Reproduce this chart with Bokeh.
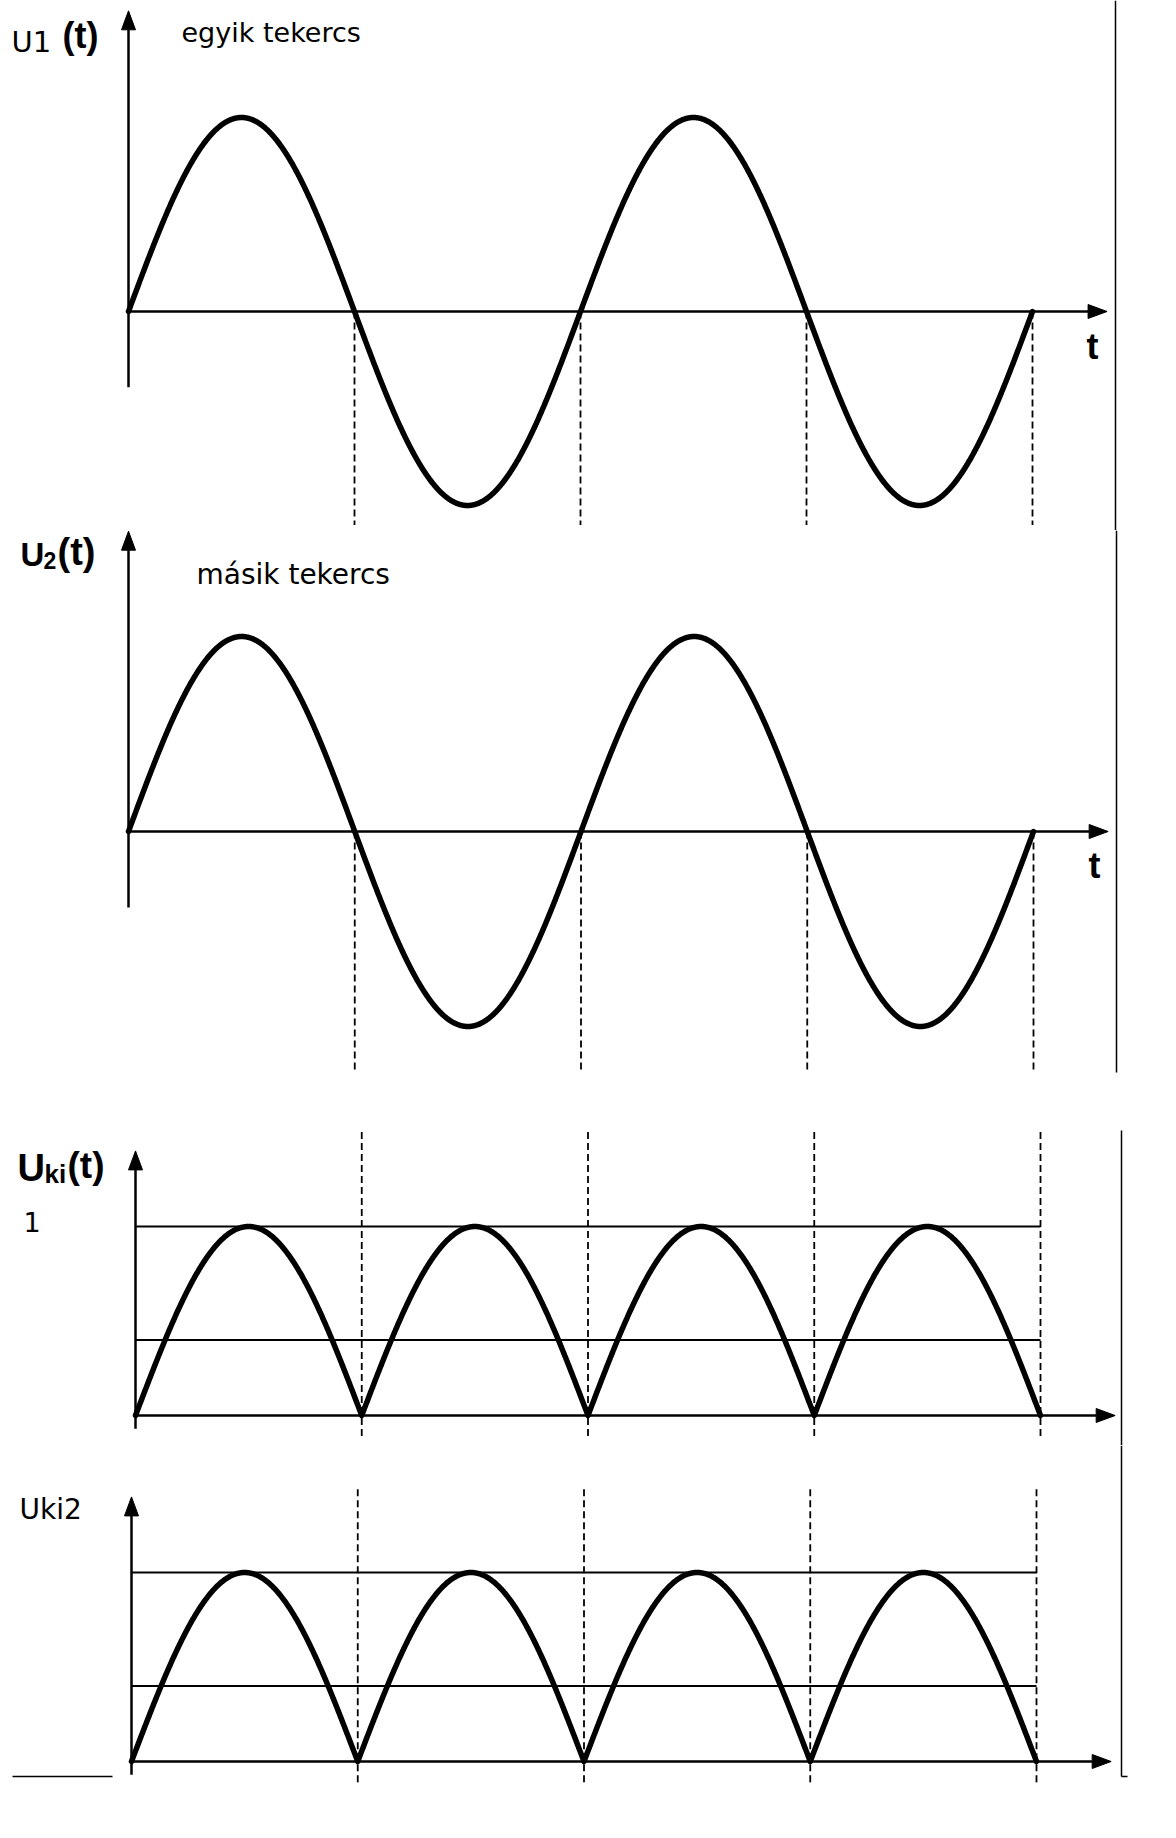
import numpy as np
from bokeh.plotting import figure
from bokeh.layouts import column
from bokeh.models import Range1d
from bokeh.core.properties import value
from bokeh.embed import file_html
from bokeh.resources import INLINE

# ---------------- data (t in half-periods, U relative to peak) ----------------
zero_crossings = [0, 1, 2, 3, 4]          # where the curves return to zero
peak_value = 1.0                           # amplitude of U1, U2 and Uki
mean_level = 0.4                           # lower horizontal line in Uki panels
t_axis_end = 4.33                          # where the t-axis arrow ends
u1_axis_span = (-0.39, 1.55)
u2_axis_span = (-0.39, 1.54)
uki_axis_span = (-0.07, 1.40)
uki2_axis_span = (-0.07, 1.40)
u1_guides_span = (0.0, -1.10)
u2_guides_span = (0.0, -1.23)
uki_guides_span = (1.50, -0.13)
uki2_guides_span = (1.44, -0.13)

t_curve = np.linspace(zero_crossings[0], zero_crossings[-1], 1601)
u_sine = peak_value * np.sin(np.pi * t_curve)
u_rect = np.abs(u_sine)

# ---------------- layout helpers ----------------
W = 1176
MARGIN = 0
CURVE_W = 5.5
AXIS_W = 2.5
HEAD_LEN = 19
HEAD_WID = 14
BASELINE_FIX = 0.38      # rendered baseline sits lower than requested
BOLD = value("Liberation Sans")
REG = value("DejaVu Sans")


class Panel:
    def __init__(self, top, height, x0, y0, sx, sy):
        self.x0, self.y0, self.sx, self.sy = x0, y0, sx, sy
        p = figure(width=W, height=height,
                   x_range=Range1d((MARGIN - x0) / sx, (MARGIN + W - x0) / sx),
                   y_range=Range1d((y0 - (top + height)) / sy, (y0 - top) / sy),
                   output_backend="svg", toolbar_location=None,
                   x_axis_location=None, y_axis_location=None,
                   min_border=0, outline_line_color=None)
        p.xgrid.visible = False
        p.ygrid.visible = False
        p.background_fill_color = "white"
        p.border_fill_color = "white"
        self.p = p
        self.top, self.height = top, height

    def tx(self, px):
        return (px - self.x0) / self.sx

    def uy(self, py):
        return (self.y0 - py) / self.sy

    def axes(self, u_span):
        p, sx, sy = self.p, self.sx, self.sy
        # horizontal axis
        p.line([0, t_axis_end - HEAD_LEN / sx], [0, 0], line_color="black", line_width=AXIS_W)
        p.patch([t_axis_end, t_axis_end - HEAD_LEN / sx, t_axis_end - HEAD_LEN / sx],
                [0, HEAD_WID / 2 / sy, -HEAD_WID / 2 / sy],
                fill_color="black", line_color="black", line_width=1)
        # vertical axis
        lo, hi = u_span
        p.line([0, 0], [lo, hi - HEAD_LEN / sy], line_color="black", line_width=AXIS_W)
        p.patch([0, HEAD_WID / 2 / sx, -HEAD_WID / 2 / sx],
                [hi, hi - HEAD_LEN / sy, hi - HEAD_LEN / sy],
                fill_color="black", line_color="black", line_width=1)

    def guides(self, span):
        a, b = span
        xs = zero_crossings[1:]
        self.p.segment(x0=xs, y0=[a] * len(xs), x1=xs, y1=[b] * len(xs),
                       line_color="black", line_width=1.8, line_dash="7 4")

    def text(self, s, px, py, size, font, bold=False):
        py = py - BASELINE_FIX * size
        self.p.text(x=[self.tx(px)], y=[self.uy(py)], text=[s], text_font=font,
                    text_font_size=f"{size}px", text_baseline="alphabetic",
                    text_align="left", text_color="black",
                    text_font_style="bold" if bold else "normal")

    def rule(self, px0, py0, px1, py1, w=1.5):
        self.p.line([self.tx(px0), self.tx(px1)], [self.uy(py0), self.uy(py1)],
                    line_color="black", line_width=w)


# ---------------- panel 1 : U1(t) ----------------
P1 = Panel(top=0, height=530, x0=128, y0=311, sx=226.0, sy=194.0)
P1.guides(u1_guides_span)
P1.axes(u1_axis_span)
P1.p.line(t_curve, u_sine, line_color="black", line_width=CURVE_W, line_cap="round", line_join="round")
P1.text("U1", 11, 53, 29, REG)
P1.text("(t)", 62, 49, 36, BOLD, bold=True)
P1.text("egyik tekercs", 181, 42, 27, REG)
P1.text("t", 1086, 360, 36, BOLD, bold=True)
P1.rule(1115, 0, 1115, 530)

# ---------------- panel 2 : U2(t) ----------------
P2 = Panel(top=530, height=545, x0=128, y0=831, sx=226.25, sy=195.0)
P2.guides(u2_guides_span)
P2.axes(u2_axis_span)
P2.p.line(t_curve, u_sine, line_color="black", line_width=CURVE_W, line_cap="round", line_join="round")
P2.text("U", 20, 567, 33, BOLD, bold=True)
P2.text("2", 43, 569, 23, BOLD, bold=True)
P2.text("(t)", 57, 566, 38, BOLD, bold=True)
P2.text("másik tekercs", 196, 585, 28, REG)
P2.text("t", 1088, 879, 36, BOLD, bold=True)
P2.rule(1116, 530, 1116, 1072)

# ---------------- panel 3 : Uki(t) ----------------
P3 = Panel(top=1075, height=370, x0=135, y0=1415, sx=226.25, sy=189.0)
P3.guides(uki_guides_span)
P3.p.line([zero_crossings[0], zero_crossings[-1]], [peak_value, peak_value], line_color="black", line_width=2)
P3.p.line([zero_crossings[0], zero_crossings[-1]], [mean_level, mean_level], line_color="black", line_width=2)
P3.axes(uki_axis_span)
P3.p.line(t_curve, u_rect, line_color="black", line_width=CURVE_W, line_cap="round", line_join="round")
P3.text("U", 17, 1182, 38, BOLD, bold=True)
P3.text("ki", 44, 1183, 26, BOLD, bold=True)
P3.text("(t)", 67, 1179, 37, BOLD, bold=True)
P3.text("1", 23, 1232, 27, REG)
P3.rule(1121, 1130, 1121, 1445)

# ---------------- panel 4 : Uki2 ----------------
P4 = Panel(top=1445, height=391, x0=131, y0=1761, sx=226.25, sy=189.0)
P4.guides(uki2_guides_span)
P4.p.line([zero_crossings[0], zero_crossings[-1]], [peak_value, peak_value], line_color="black", line_width=2)
P4.p.line([zero_crossings[0], zero_crossings[-1]], [mean_level, mean_level], line_color="black", line_width=2)
P4.axes(uki2_axis_span)
P4.p.line(t_curve, u_rect, line_color="black", line_width=CURVE_W, line_cap="round", line_join="round")
P4.text("Uki2", 19, 1520, 28, REG)
P4.rule(1121, 1445, 1121, 1776)
P4.rule(1121, 1776, 1127, 1776)
P4.rule(12, 1776, 112, 1776)

layout = column(P1.p, P2.p, P3.p, P4.p, spacing=0)
open("out.html", "w").write(file_html(layout, INLINE))
